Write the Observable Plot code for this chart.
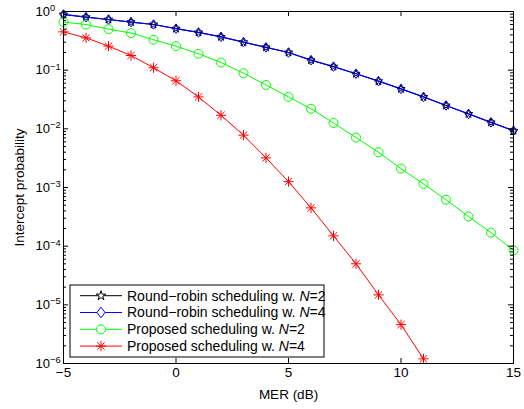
<!DOCTYPE html>
<html><head><meta charset="utf-8">
<script src="https://cdn.jsdelivr.net/npm/d3@7"></script>
<script src="https://cdn.jsdelivr.net/npm/@observablehq/plot@0.6"></script>
<style>body{margin:0;background:#fff} svg{display:block}</style>
</head><body><div id="chart"></div>
<script>
// MER (dB)
const mer = [-5,-4,-3,-2,-1,0,1,2,3,4,5,6,7,8,9,10,11,12,13,14,15];
// Intercept probability per series
const rrN2 = [0.89,0.80,0.73,0.66,0.60,0.51,0.44,0.37,0.30,0.245,0.20,0.148,0.115,0.087,0.065,0.048,0.035,0.025,0.018,0.0129,0.0093];
const rrN4 = [0.89,0.80,0.73,0.66,0.60,0.51,0.44,0.37,0.30,0.245,0.20,0.148,0.115,0.087,0.065,0.048,0.035,0.025,0.018,0.0129,0.0093];
const propN2 = [0.66,0.60,0.50,0.43,0.33,0.257,0.19,0.135,0.089,0.056,0.035,0.022,0.0126,0.0071,0.0040,0.0021,0.00115,0.00062,0.00032,0.00017,0.000085];
const propN4 = [0.45,0.355,0.257,0.178,0.11,0.066,0.035,0.017,0.0078,0.0032,0.00126,0.00045,0.00015,0.00005,0.0000148,0.0000046,0.0000012];
const seriesNames = ["Round\u2212robin scheduling w. ", "Round\u2212robin scheduling w. ", "Proposed scheduling w. ", "Proposed scheduling w. "];
const seriesN = ["2","4","2","4"];
const seriesColors = ["#000000","#0000ff","#00ff00","#ff0000"];
const xTicks = [-5,0,5,10,15];
const yTicks = [1e-6,1e-5,1e-4,1e-3,1e-2,1e-1,1];
const yMinor = [];
for (let e = -6; e < 0; e++) for (let m = 2; m <= 9; m++) yMinor.push(m * Math.pow(10, e));

const seriesValues = [rrN2, rrN4, propN2, propN4];
const rows = [];
seriesValues.forEach((vals, s) => vals.forEach((v, i) => rows.push({x: mer[i], y: v, s})));
const sel = s => rows.filter(d => d.s === s);

const W = 524, H = 409, mL = 63, mR = 11, mT = 11, mB = 46;
const iw = W - mL - mR, ih = H - mT - mB;

// MATLAB-like diamond (wider than d3's)
const matDiamond = {
  draw(ctx, size) {
    const h = Math.sqrt(size / 1.5);
    const w = h * 0.75;
    ctx.moveTo(0, -h); ctx.lineTo(w, 0); ctx.lineTo(0, h); ctx.lineTo(-w, 0); ctx.closePath();
  }
};

const starR = 2.6, diaR = 3.3, circR = 4.5, astR = 3.4;

const plot = Plot.plot({
  width: W, height: H,
  marginLeft: mL, marginRight: mR, marginTop: mT, marginBottom: mB,
  style: {fontFamily: "'Liberation Sans', Arial, Helvetica, sans-serif", fontSize: "13px", background: "#fff", color: "#000"},
  x: {domain: [-5, 15]},
  y: {type: "log", domain: [1e-6, 1]},
  marks: [
    // lines
    Plot.line(sel(0), {x: "x", y: "y", stroke: seriesColors[0], strokeWidth: 1, clip: true}),
    Plot.line(sel(1), {x: "x", y: "y", stroke: seriesColors[1], strokeWidth: 1.2, clip: true}),
    Plot.line(sel(2), {x: "x", y: "y", stroke: seriesColors[2], strokeWidth: 1, clip: true}),
    Plot.line(sel(3), {x: "x", y: "y", stroke: seriesColors[3], strokeWidth: 1, clip: true}),
    // markers
    Plot.dot(sel(0), {x: "x", y: "y", symbol: "star", r: starR, stroke: seriesColors[0], fill: "none", strokeWidth: 1}),
    Plot.dot(sel(1), {x: "x", y: "y", symbol: matDiamond, r: diaR, stroke: seriesColors[1], fill: "none", strokeWidth: 1}),
    Plot.dot(sel(2), {x: "x", y: "y", symbol: "circle", r: circR, stroke: seriesColors[2], fill: "none", strokeWidth: 1}),
    Plot.dot(sel(3), {x: "x", y: "y", symbol: "plus", r: astR, stroke: seriesColors[3], strokeWidth: 1}),
    Plot.dot(sel(3), {x: "x", y: "y", symbol: "times", r: astR, stroke: seriesColors[3], strokeWidth: 1}),
    // inward ticks
    Plot.tickX(xTicks, {x: d => d, insetTop: ih - 5, stroke: "black"}),
    Plot.tickX(xTicks, {x: d => d, insetBottom: ih - 5, stroke: "black"}),
    Plot.tickY(yTicks, {y: d => d, insetRight: iw - 5, stroke: "black"}),
    Plot.tickY(yTicks, {y: d => d, insetLeft: iw - 5, stroke: "black"}),
    Plot.tickY(yMinor, {y: d => d, insetRight: iw - 3, stroke: "black"}),
    Plot.tickY(yMinor, {y: d => d, insetLeft: iw - 3, stroke: "black"}),
    Plot.frame({stroke: "black", strokeWidth: 1}),
    Plot.axisX(xTicks, {tickSize: 0, tickPadding: 4, label: "MER (dB)", labelAnchor: "center", labelArrow: "none", labelOffset: 35, fontSize: 13.5}),
    Plot.axisY(yTicks, {tickSize: 0, tickPadding: 28, tickFormat: d => String(Math.round(Math.log10(d))), label: "Intercept probability", labelAnchor: "center", labelArrow: "none", labelOffset: 49, fontSize: 13.5})
  ]
});

document.getElementById("chart").appendChild(plot);
const svg = d3.select(plot);

// superscript tick labels 10^k, left-aligned like MATLAB
svg.selectAll('g[aria-label="y-axis tick label"] text').each(function() {
  const t = d3.select(this);
  const k = t.text().replace("-", "\u2212");
  t.text("").attr("text-anchor", "start").attr("font-size", 13);
  t.append("tspan").text("10");
  t.append("tspan").attr("dy", "-0.5em").attr("font-size", "0.72em").text(k);
});

// legend
const xs = plot.scale("x"), ys = plot.scale("y");
const lx = xs.apply(-5) + 7, lyb = ys.apply(1e-6) - 6;
const rowH = 16.8, boxH = 72, boxW = 254;
const ly = lyb - boxH;
const lg = svg.append("g").attr("transform", `translate(${lx},${ly})`)
  .attr("font-family", "'Liberation Sans', Arial, Helvetica, sans-serif").attr("font-size", 14)
  .attr("text-anchor", "start");
lg.append("rect").attr("width", boxW).attr("height", boxH).attr("fill", "white").attr("stroke", "black");
const syms = [[d3.symbolStar, starR + 0.4], [matDiamond, diaR + 0.4], [d3.symbolCircle, circR], [d3.symbolPlus, astR]];
seriesNames.forEach((name, i) => {
  const cy = 10.7 + i * rowH;
  const row = lg.append("g").attr("transform", `translate(0,${cy})`);
  row.append("line").attr("x1", 10).attr("x2", 52).attr("stroke", seriesColors[i]).attr("stroke-width", 1);
  const [sym, r] = syms[i];
  row.append("path").attr("transform", "translate(31,0)").attr("d", d3.symbol(sym, Math.PI * r * r)())
    .attr("fill", "white").attr("stroke", seriesColors[i]);
  if (i === 3) row.append("path").attr("transform", "translate(31,0)").attr("d", d3.symbol(d3.symbolTimes, Math.PI * r * r)())
    .attr("fill", "none").attr("stroke", seriesColors[i]);
  const tx = row.append("text").attr("x", 57).attr("dy", "0.35em").attr("text-anchor", "start");
  tx.append("tspan").text(name);
  tx.append("tspan").attr("font-style", "italic").text("N");
  tx.append("tspan").text("=" + seriesN[i]);
});
</script>
</body></html>
